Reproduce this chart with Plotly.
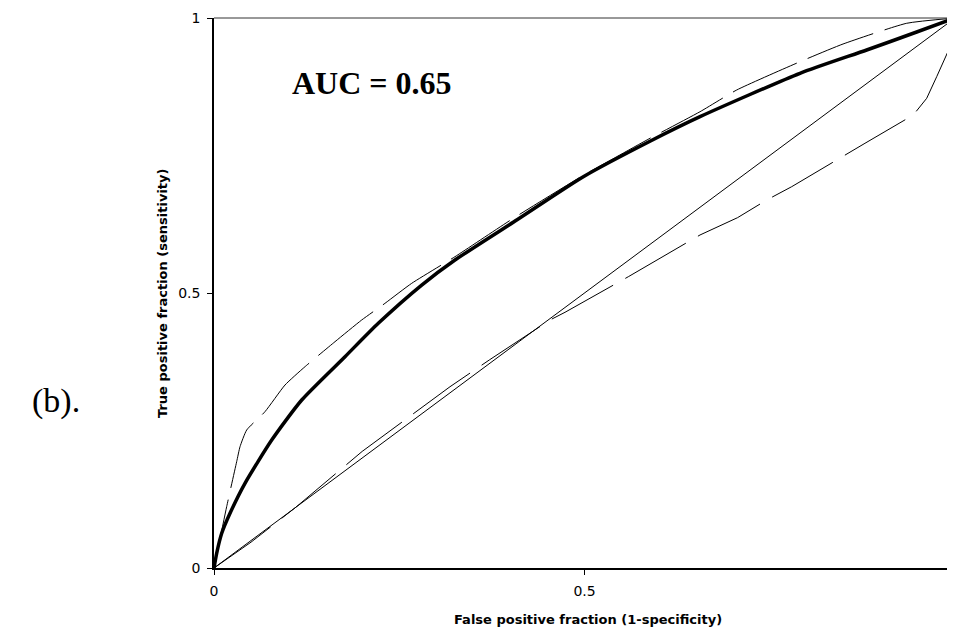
import plotly.graph_objects as go

# ---- data ----
fit_fpf = [0, 0.0036, 0.0104, 0.0216, 0.0418, 0.0779, 0.1184, 0.1768, 0.2217,
           0.2803, 0.3252, 0.4085, 0.4984, 0.5884, 0.6559, 0.7908, 0.8808, 0.9483, 1.0]
fit_tpf = [0, 0.0267, 0.0631, 0.0995, 0.1540, 0.2327, 0.3055, 0.3842, 0.4449,
           0.5145, 0.5600, 0.6327, 0.7115, 0.7760, 0.8206, 0.8995, 0.9418, 0.9745, 1.0]

upper_fpf = [0, 0.0171, 0.0306, 0.0351, 0.0441, 0.0688, 0.0958, 0.1228, 0.1633,
             0.1993, 0.2308, 0.2668, 0.3252, 0.4039, 0.498, 0.5435, 0.5884, 0.6559,
             0.7054, 0.7908, 0.8489, 0.9348, 1.0]
upper_tpf = [0, 0.1115, 0.1933, 0.2205, 0.2509, 0.2842, 0.3327, 0.3660, 0.4115,
             0.4509, 0.4813, 0.5176, 0.5660, 0.6358, 0.7136, 0.7478, 0.7813, 0.8296,
             0.8691, 0.9205, 0.9527, 0.9904, 1.0]

lower_fpf = [0, 0.05, 0.11, 0.20, 0.3185, 0.3715, 0.4534, 0.4737, 0.5591, 0.5772,
             0.6221, 0.6559, 0.7066, 0.7459, 0.7796, 0.8583, 0.8785, 0.9437, 0.9618,
             0.9753, 0.9865, 0.9955, 1.0]
lower_tpf = [0, 0.047, 0.110, 0.212, 0.3296, 0.3782, 0.4509, 0.4649, 0.5296, 0.5436,
             0.5782, 0.6055, 0.6370, 0.6691, 0.6933, 0.7569, 0.7722, 0.8236, 0.8540,
             0.8933, 0.9267, 0.9540, 1.0]

chance_fpf = [0, 1]
chance_tpf = [0, 1]

x_ticks = [0, 0.5]
x_ticklabels = ["0", "0.5"]
y_ticks = [0, 0.5, 1]
y_ticklabels = ["0", "0.5", "1"]

auc_label = "AUC = 0.65"
panel_label = "(b)."
x_title = "False positive fraction (1-specificity)"
y_title = "True positive fraction (sensitivity)"

# ---- figure ----
fig = go.Figure()
fig.add_trace(go.Scatter(x=chance_fpf, y=chance_tpf, mode="lines",
                         line=dict(color="black", width=1), showlegend=False))
fig.add_trace(go.Scatter(x=lower_fpf, y=lower_tpf, mode="lines",
                         line=dict(color="black", width=1, dash="70px,14px"),
                         showlegend=False))
fig.add_trace(go.Scatter(x=upper_fpf, y=upper_tpf, mode="lines",
                         line=dict(color="black", width=1, dash="70px,12px",
                                   shape="spline", smoothing=0.5),
                         showlegend=False))
fig.add_trace(go.Scatter(x=fit_fpf, y=fit_tpf, mode="lines",
                         line=dict(color="black", width=3.5, shape="spline", smoothing=0.6),
                         showlegend=False))

tickfont = dict(family="DejaVu Sans", size=14, color="black")
axis_common = dict(showgrid=False, zeroline=False, showline=True, linecolor="black",
                   linewidth=1.5, ticks="outside", ticklen=5, tickwidth=1,
                   tickcolor="black", tickfont=tickfont)

fig.update_layout(
    width=947, height=624,
    margin=dict(l=206, r=0, t=10, b=64),
    plot_bgcolor="white", paper_bgcolor="white",
    xaxis=dict(range=[0, 1], tickvals=x_ticks, ticktext=x_ticklabels,
               ticklabelstandoff=4, **axis_common),
    yaxis=dict(range=[0, 1], tickvals=y_ticks, ticktext=y_ticklabels,
               ticklabelstandoff=4, **axis_common),
    shapes=[dict(type="line", xref="paper", yref="paper", x0=0, x1=1, y0=1, y1=1,
                 line=dict(color="#333333", width=1))],
    annotations=[
        dict(text=auc_label, xref="paper", yref="paper", x=0.2139, y=0.882,
             xanchor="center", yanchor="middle", showarrow=False,
             font=dict(family="Liberation Serif", size=32, color="black", weight="bold")),
        dict(text=panel_label, xref="paper", yref="paper", x=-0.2132, y=0.304,
             xanchor="center", yanchor="middle", showarrow=False,
             font=dict(family="Liberation Serif", size=34, color="black")),
        dict(text=x_title, xref="paper", yref="paper", x=0.5047, y=-0.0945,
             xanchor="center", yanchor="middle", showarrow=False,
             font=dict(family="DejaVu Sans", size=13, color="black", weight="bold")),
        dict(text=y_title, xref="paper", yref="paper", x=-0.0702, y=0.5,
             xanchor="center", yanchor="middle", showarrow=False, textangle=-90,
             font=dict(family="DejaVu Sans", size=13, color="black", weight="bold")),
    ],
)

fig.write_html("out.html")
